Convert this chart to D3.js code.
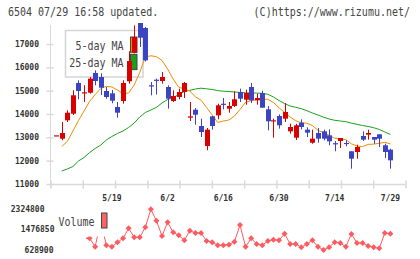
<!DOCTYPE html>
<html>
<head>
<meta charset="utf-8">
<script src="https://cdn.jsdelivr.net/npm/d3@7"></script>
<style>
body { margin: 0; background: #fff; }
svg { display: block; }
</style>
</head>
<body>
<script>
// --- 6504 daily candles, 5/1 - 7/29 ---
const dates = ["5/1","5/2","5/7","5/8","5/9","5/12","5/13","5/14","5/15","5/16",
    "5/19","5/20","5/21","5/22","5/23","5/26","5/27","5/28","5/29","5/30",
    "6/2","6/3","6/4","6/5","6/6","6/9","6/10","6/11","6/12","6/13",
    "6/16","6/17","6/18","6/19","6/20","6/23","6/24","6/25","6/26","6/27",
    "6/30","7/1","7/2","7/3","7/4","7/7","7/8","7/9","7/10","7/11",
    "7/14","7/15","7/16","7/17","7/18","7/22","7/23","7/24","7/25","7/28","7/29"];

const open = [13086,12941,13730,14013,15330,14900,14912,15759,15586,14986,14887,14300,14557,15402,16630,17950,17686,15230,15470,15414,15157,14557,14729,14943,13843,14184,13486,12629,13900,13943,14440,14227,14343,14943,14614,15157,14587,14900,14201,13690,13914,13800,13257,12986,13627,13329,12770,13186,13257,13086,12750,12843,12760,12401,12372,13057,13114,13014,13129,12659,12472];
const high = [13086,13657,14158,15016,15444,15230,15586,15873,15744,15157,15029,14515,15444,16687,17800,17980,17730,15372,15516,15800,15230,15016,15086,15372,14515,14257,13800,13400,13914,14441,14686,14515,14973,15086,15043,15329,14870,15000,14343,13800,13987,14472,13584,13580,13770,13429,13329,13400,13329,13343,12843,12972,12872,12401,12686,13257,13329,13014,13129,12727,12515];
const low = [13086,12872,13657,13957,14630,14515,14870,15230,14814,14656,14459,13842,14442,15300,16600,16871,16250,14801,14830,15300,14229,14515,14630,14686,13700,13541,13014,12444,13329,13773,14201,14056,14300,14515,14399,14472,14399,14270,13300,12986,13372,13657,13157,12886,13343,13014,12727,12770,12872,12659,12401,12543,12615,11656,12084,12843,12900,12727,12586,12115,11656];
const close = [13086,13186,14056,14802,14986,14930,15516,15414,15127,14729,14570,14056,15329,16272,17300,17270,16301,15187,15444,15586,14656,14772,14943,15329,13900,13970,13229,13329,13486,14373,14400,14343,14630,14656,14900,14587,14686,14270,13687,13730,13516,14086,13443,13516,13443,13200,12943,12943,12943,12830,12720,12972,12720,12084,12586,12900,13186,12900,12943,12372,12015];

const ma5 = [null,12607,12822,13272,13722,14129,14536,14836,15093,15187,15157,15029,14870,14900,15243,15779,16443,16495,16456,16293,15929,15500,15149,15072,14986,14729,14592,14279,13957,13636,13700,13743,13914,14193,14502,14570,14613,14630,14630,14493,14266,14064,13872,13709,13623,13606,13507,13297,13207,13083,12963,12937,12903,12723,12629,12603,12697,12710,12744,12787,12714];
const ma25 = [null,11557,11643,11750,11986,12136,12350,12522,12672,12886,13036,13164,13272,13422,13614,13872,14064,14172,14287,14472,14622,14699,14836,14964,15016,15072,15106,15080,15050,15003,14977,14964,14943,14922,14909,14900,14900,14883,14845,14729,14579,14450,14343,14287,14227,14142,14043,13957,13863,13786,13730,13700,13670,13606,13559,13507,13464,13413,13336,13229,13122];

const volume = [null,null,null,null,null,1116000,1116000,766000,1850000,825000,766000,950000,1116000,1533000,1158000,1158000,1575000,2324800,1850000,1212000,1783000,1366000,1241000,1033000,1433000,1337000,1337000,1004000,950000,825000,825000,850000,975000,1671000,766000,1116000,879000,825000,1004000,1058000,1033000,1308000,879000,879000,741000,879000,1033000,766000,628900,741000,950000,921000,766000,1296000,921000,921000,796000,741000,700000,1337000,1308000];

const priceTicks = [11000,12000,13000,14000,15000,16000,17000];
const dateLabels = ["5/19","6/2","6/16","6/30","7/14","7/29"];
const volTicks = [2324800,1476850,628900];
const maNames = ["5-day MA","25-day MA"];

const UP = "#d90000", DOWN = "#3c44c4", AXIS = "#d9d9d9", TXT = "#333";
const mono = "'DejaVu Sans Mono', monospace";

const svg = d3.select("body").append("svg")
    .attr("width", 420)
    .attr("height", 259);

const x = d3.scalePoint().domain(dates).range([56.2, 390.4]);
const y = d3.scaleLinear().domain([11000, 18000]).range([184, 20.67]);
const yVol = d3.scaleLinear().domain([d3.min(volume), d3.max(volume)]).range([250, 209.3]);

// tall monospace text like the original's pixel font
function label(px, py, str, anchor) {
    return svg.append("text")
        .attr("transform", `translate(${px},${py}) scale(1,1.15)`)
        .attr("text-anchor", anchor || "start")
        .attr("font-family", mono).attr("font-size", 10).attr("fill", "#444")
        .text(str);
}

// header
label(8, 16, "6504 07/29 16:58 updated.");
label(410, 16, "(C)https://www.rizumu.net/", "end");

// axes
svg.append("line").attr("x1", 50.5).attr("x2", 50.5).attr("y1", 25).attr("y2", 188)
    .attr("stroke", AXIS);
svg.append("line").attr("x1", 50).attr("x2", 406).attr("y1", 184.5).attr("y2", 184.5)
    .attr("stroke", AXIS).attr("stroke-width", 1.5);

const yAxis = svg.append("g")
    .attr("transform", "translate(53.5,0)")
    .call(d3.axisLeft(y).tickValues(priceTicks).tickFormat(d3.format("d"))
        .tickSize(7).tickPadding(7.5));
yAxis.select(".domain").remove();
yAxis.selectAll("line").attr("stroke", AXIS).attr("stroke-width", 1.5);
yAxis.selectAll("text").attr("font-family", mono).attr("font-size", 8)
    .attr("font-weight", "bold").attr("fill", TXT);

const tickX = d3.scaleLinear().domain([0, 11]).range([50.5, 405.5]);
const xAxis = svg.append("g")
    .attr("transform", "translate(0,180.5)")
    .call(d3.axisBottom(tickX).ticks(11).tickSize(8).tickFormat(""));
xAxis.select(".domain").remove();
xAxis.selectAll("line").attr("stroke", AXIS).attr("stroke-width", 1.5);

svg.selectAll(".xlabel")
    .data(dateLabels)
    .enter()
    .append("text")
    .attr("class", "xlabel")
    .attr("x", d => x(d))
    .attr("y", 201)
    .attr("text-anchor", "middle")
    .attr("font-family", mono).attr("font-size", 8).attr("font-weight", "bold")
    .attr("fill", TXT)
    .text(d => d);

// legend (price)
svg.append("rect").attr("x", 65.5).attr("y", 30.5).attr("width", 77.5).attr("height", 46.5)
    .attr("fill", "#fff").attr("stroke", "#d4d4d4").attr("stroke-width", 1.5);
const maColors = ["#f28c00", "#1ca01c"];
maNames.forEach((d, i) => label(123.5, 50 + i * 17, d, "end"));
svg.selectAll(".legsw")
    .data(maColors)
    .enter()
    .append("rect")
    .attr("class", "legsw")
    .attr("x", 130.5)
    .attr("y", (d, i) => 37 + i * 17.3)
    .attr("width", 6.5)
    .attr("height", 15.3)
    .attr("fill", d => d)
    .attr("stroke", "#444");

// price plot
svg.append("clipPath").attr("id", "pclip")
    .append("rect").attr("x", 50).attr("y", 23).attr("width", 356).attr("height", 162);
const plot = svg.append("g").attr("clip-path", "url(#pclip)");

const line = d3.line()
    .defined(d => d != null)
    .x((d, i) => x(dates[i]))
    .y(d => y(d));

plot.append("path").datum(ma25)
    .attr("fill", "none").attr("stroke", maColors[1]).attr("stroke-width", 1)
    .attr("d", line);
plot.append("path").datum(ma5)
    .attr("fill", "none").attr("stroke", maColors[0]).attr("stroke-width", 1)
    .attr("d", line);

const idx = d3.range(dates.length);
const color = i => close[i] >= open[i] ? UP : DOWN;

plot.selectAll(".wick")
    .data(idx)
    .enter()
    .append("line")
    .attr("class", "wick")
    .attr("x1", i => Math.round(x(dates[i])) + 0.5)
    .attr("x2", i => Math.round(x(dates[i])) + 0.5)
    .attr("y1", i => y(high[i]))
    .attr("y2", i => y(low[i]))
    .attr("stroke", color)
    .attr("stroke-width", 1);

plot.selectAll(".body")
    .data(idx)
    .enter()
    .append("rect")
    .attr("class", "body")
    .attr("x", i => Math.round(x(dates[i])) - 2)
    .attr("width", 5)
    .attr("y", i => y(Math.max(open[i], close[i])))
    .attr("height", i => Math.max(1.2, Math.abs(y(open[i]) - y(close[i]))))
    .attr("fill", color);

// volume
svg.append("clipPath").attr("id", "vclip")
    .append("rect").attr("x", 86).attr("y", 200).attr("width", 320).attr("height", 56);
const vol = svg.append("g").attr("clip-path", "url(#vclip)");
const VOLC = "#ff5a5f";

vol.append("path").datum(volume)
    .attr("fill", "none").attr("stroke", VOLC).attr("stroke-width", 1)
    .attr("d", d3.line()
        .defined(d => d != null)
        .x((d, i) => x(dates[i]))
        .y(d => yVol(d)));

vol.selectAll(".vdot")
    .data(idx.filter(i => volume[i] != null))
    .enter()
    .append("path")
    .attr("class", "vdot")
    .attr("transform", i => `translate(${x(dates[i])},${yVol(volume[i])})`)
    .attr("d", "M0,-3L3,0L0,3L-3,0Z")
    .attr("fill", VOLC);

svg.append("rect").attr("x", 55).attr("y", 204).attr("width", 55.5).attr("height", 32.5)
    .attr("fill", "#fff");
label(58.5, 226, "Volume");
svg.append("rect").attr("x", 101.5).attr("y", 213).attr("width", 5.5).attr("height", 15)
    .attr("fill", "#ff6464").attr("stroke", "#444");

const volLabelRight = [44.5, 54.5, 53.5];
svg.selectAll(".vlabel")
    .data(volTicks)
    .enter()
    .append("text")
    .attr("class", "vlabel")
    .attr("x", (d, i) => volLabelRight[i])
    .attr("y", d => yVol(d) + 2.8)
    .attr("text-anchor", "end")
    .attr("font-family", mono).attr("font-size", 8).attr("font-weight", "bold")
    .attr("fill", TXT)
    .text(d => d);
</script>
</body>
</html>
